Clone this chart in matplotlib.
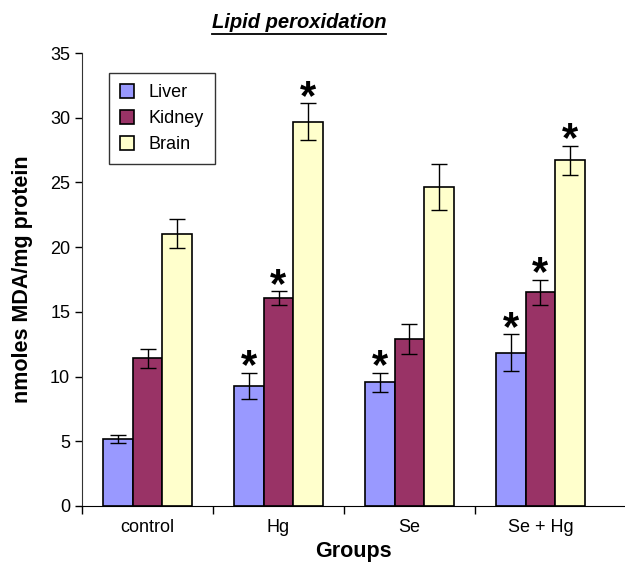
import matplotlib
matplotlib.use("Agg")
import matplotlib.pyplot as plt
import numpy as np
from matplotlib.lines import Line2D

plt.rcParams['font.family'] = ['Liberation Sans', 'DejaVu Sans']

groups = ["control", "Hg", "Se", "Se + Hg"]
series = ["Liver", "Kidney", "Brain"]
liver = [5.2, 9.3, 9.55, 11.85]
kidney = [11.4, 16.05, 12.9, 16.5]
brain = [21.05, 29.7, 24.65, 26.7]
liver_err = [0.3, 1.0, 0.75, 1.45]
kidney_err = [0.75, 0.55, 1.15, 1.0]
brain_err = [1.15, 1.45, 1.75, 1.15]
liver_sig = [False, True, True, True]
kidney_sig = [False, True, False, True]
brain_sig = [False, True, False, True]
colors = ["#9999FF", "#993366", "#FFFFCC"]

fig = plt.figure(figsize=(6.25, 5.65), dpi=100)
ax = fig.add_axes([82/625, 59/565, 543/625, 453/565])

x = np.arange(len(groups))
w = 0.225
vals = [liver, kidney, brain]
errs = [liver_err, kidney_err, brain_err]
sigs = [liver_sig, kidney_sig, brain_sig]
for i in range(3):
    xs = x + (i - 1) * w
    ax.bar(xs, vals[i], w, color=colors[i], edgecolor="black", linewidth=1.2,
           label=series[i], zorder=2)
    ax.errorbar(xs, vals[i], yerr=errs[i], fmt="none", ecolor="black",
                elinewidth=1.0, capsize=6, capthick=1.0, zorder=3)
    for j in range(len(groups)):
        if sigs[i][j]:
            ax.text(xs[j], vals[i][j] + errs[i][j] - 0.45, "*", ha="center",
                    va="baseline", fontsize=30, fontweight="bold", zorder=4)

ax.set_xlim(-0.5, 3.5 + 19/131)
ax.set_ylim(0, 35)
ax.set_yticks(np.arange(0, 36, 5))
ax.tick_params(axis="y", labelsize=13, direction="out", length=5, width=1)
ax.set_xticks(x)
ax.set_xticklabels(groups, fontsize=13)
ax.tick_params(axis="x", length=0, pad=9)
ax.set_xticks([-0.5, 0.5, 1.5, 2.5], minor=True)
ax.tick_params(axis="x", which="minor", length=6, width=1, direction="out")
for s in ["top", "right"]:
    ax.spines[s].set_visible(False)
ax.spines["left"].set_color("#333333")
ax.spines["bottom"].set_color("black")

ax.set_ylabel("nmoles MDA/mg protein", fontsize=15.5, fontweight="bold", labelpad=12)
ax.set_xlabel("Groups", fontsize=15.5, fontweight="bold", labelpad=4)

leg = ax.legend(loc="upper left", bbox_to_anchor=(27/543, 433/453), fontsize=13,
                frameon=True, fancybox=False, edgecolor="black", handlelength=0.8,
                handleheight=0.8, borderpad=0.6, labelspacing=0.5, handletextpad=0.8,
                borderaxespad=0)
leg.get_frame().set_linewidth(1.0)

t = fig.text(299/625, 1 - 23/565, "Lipid peroxidation", ha="center", va="center",
             fontsize=14.5, fontweight="bold", fontstyle="italic")
fig.canvas.draw()
bb = t.get_window_extent(fig.canvas.get_renderer())
uy = bb.y0 - 1
fig.add_artist(Line2D([bb.x0 / 625, bb.x1 / 625], [uy / 565, uy / 565],
                      transform=fig.transFigure, color="black", linewidth=1.3))

fig.savefig("out.png", dpi=100)
